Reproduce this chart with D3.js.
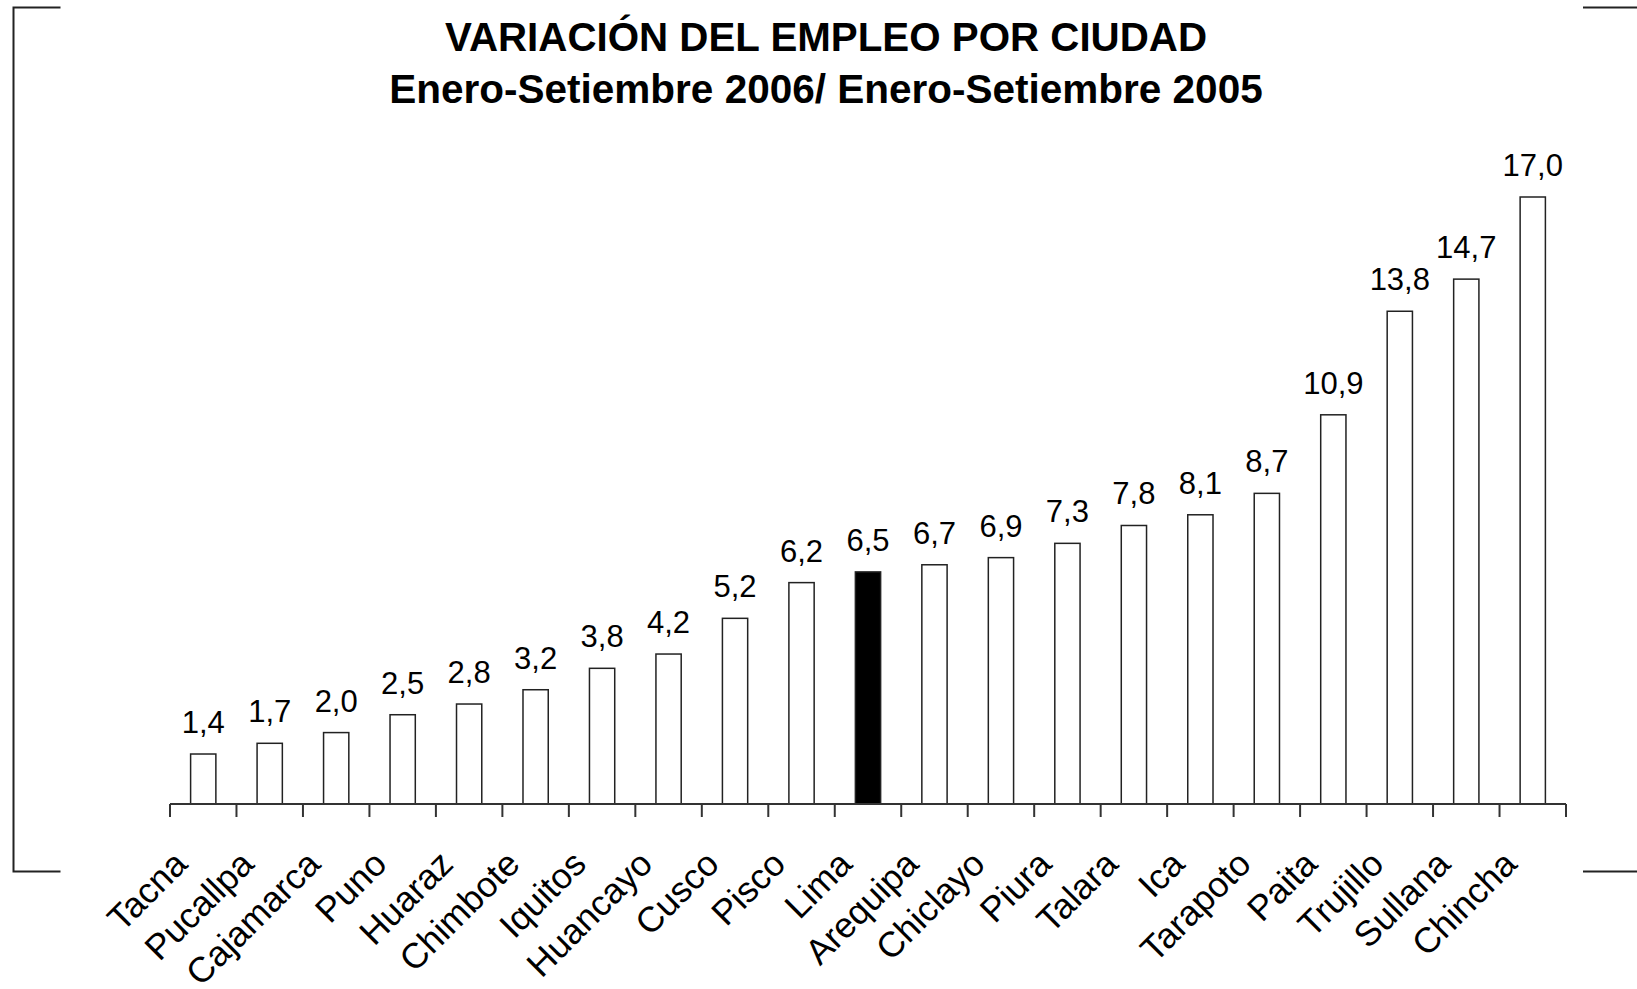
<!DOCTYPE html>
<html>
<head>
<meta charset="utf-8">
<script src="https://cdn.jsdelivr.net/npm/d3@7"></script>
<style>
  body { margin: 0; background: #fff; }
  svg { display: block; font-family: Arial, "Liberation Sans", sans-serif; }
</style>
</head>
<body>
<div id="chart"></div>
<script>
// data
const cities = ["Tacna","Pucallpa","Cajamarca","Puno","Huaraz","Chimbote","Iquitos","Huancayo","Cusco","Pisco","Lima","Arequipa","Chiclayo","Piura","Talara","Ica","Tarapoto","Paita","Trujillo","Sullana","Chincha"];
const variation = [1.4,1.7,2.0,2.5,2.8,3.2,3.8,4.2,5.2,6.2,6.5,6.7,6.9,7.3,7.8,8.1,8.7,10.9,13.8,14.7,17.0];
const highlighted = ["Lima"];
const titleLines = ["VARIACIÓN DEL EMPLEO POR CIUDAD", "Enero-Setiembre 2006/ Enero-Setiembre 2005"];

const W = 1637, H = 989;
const svg = d3.select("#chart").append("svg").attr("width", W).attr("height", H);

// frame corners
const frame = svg.append("g").attr("stroke", "#222").attr("stroke-width", 2).attr("fill", "none");
frame.append("path").attr("d", "M60.5,7.5H13.5V871.5H60.5");
frame.append("path").attr("d", "M1583,7.5H1637");
frame.append("path").attr("d", "M1583,871.5H1637");

// titles
svg.selectAll(".title").data(titleLines).enter().append("text")
    .attr("x", 826)
    .attr("y", (d, i) => i ? 103 : 51)
    .attr("text-anchor", "middle")
    .attr("font-weight", "bold")
    .attr("font-size", (d, i) => i ? 40.5 : 40.3)
    .attr("fill", "#000")
    .text(d => d);

const x = d3.scaleBand().domain(cities).range([170, 1566]).paddingInner(0.62).paddingOuter(0.31);
const y = d3.scaleLinear().domain([0, 17]).range([804, 197]);

// bars
svg.append("g").selectAll("rect").data(cities).enter().append("rect")
    .attr("x", d => x(d))
    .attr("width", x.bandwidth())
    .attr("y", (d, i) => y(variation[i]))
    .attr("height", (d, i) => y(0) - y(variation[i]))
    .attr("fill", d => highlighted.includes(d) ? "#000" : "#fff")
    .attr("stroke", "#222")
    .attr("stroke-width", 1.5);

// value labels
svg.append("g").selectAll("text").data(cities).enter().append("text")
    .attr("x", d => x(d) + x.bandwidth() / 2)
    .attr("y", (d, i) => y(variation[i]) - 21)
    .attr("text-anchor", "middle")
    .attr("font-size", 31)
    .attr("fill", "#000")
    .text((d, i) => d3.format(".1f")(variation[i]).replace(".", ","));

// x axis: ticks on band edges
const step = x.step();
const edges = d3.range(cities.length + 1).map(i => 170 + i * step);
const axis = svg.append("g").attr("stroke", "#333").attr("stroke-width", 2);
axis.append("line").attr("x1", 170).attr("x2", 1566).attr("y1", 804).attr("y2", 804);
axis.selectAll(".tick").data(edges).enter().append("line")
    .attr("x1", d => d).attr("x2", d => d)
    .attr("y1", 804).attr("y2", 817);

svg.append("g").selectAll("text").data(cities).enter().append("text")
    .attr("transform", d => `translate(${x(d) + x.bandwidth() / 2 - 14},866) rotate(-45)`)
    .attr("text-anchor", "end")
    .attr("font-size", 35.5)
    .attr("fill", "#000")
    .text(d => d);
</script>
</body>
</html>
